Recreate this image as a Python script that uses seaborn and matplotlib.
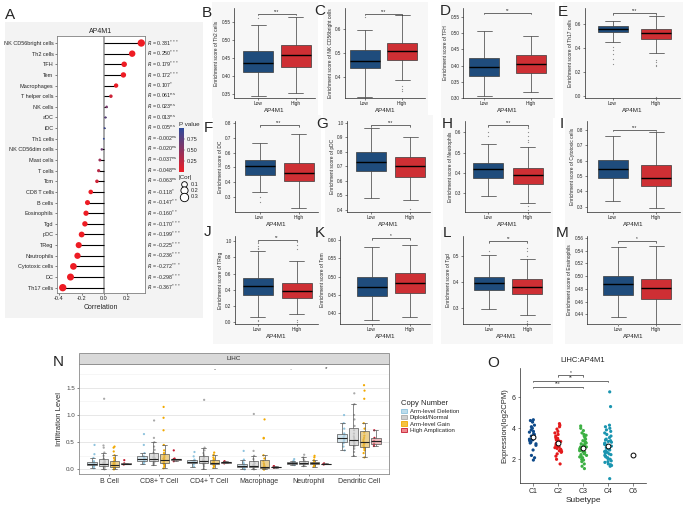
import numpy as np
import pandas as pd
import seaborn as sns
import matplotlib.pyplot as plt
from matplotlib.colors import LinearSegmentedColormap, Normalize
from matplotlib.cm import ScalarMappable
from matplotlib.lines import Line2D
from matplotlib.patches import Patch, Rectangle
from matplotlib.transforms import blended_transform_factory

# ---------------- data: panel A (lollipop) ----------------
cells_a = ["NK CD56bright cells", "Th2 cells", "TFH", "Tem", "Macrophages", "T helper cells",
           "NK cells", "aDC", "iDC", "Th1 cells", "NK CD56dim cells", "Mast cells", "T cells",
           "Tcm", "CD8 T cells", "B cells", "Eosinophils", "Tgd", "pDC", "TReg", "Neutrophils",
           "Cytotoxic cells", "DC", "Th17 cells"]
r_values = [0.331, 0.250, 0.179, 0.172, 0.107, 0.061, 0.023, 0.013, 0.005, -0.002, -0.020,
            -0.037, -0.048, -0.063, -0.118, -0.147, -0.160, -0.170, -0.199, -0.225, -0.236,
            -0.272, -0.298, -0.367]
r_stars = ["***", "***", "***", "***", "*", "ns", "ns", "ns", "ns", "ns", "ns", "ns", "ns", "ns",
           "*", "**", "**", "***", "***", "***", "***", "***", "***", "***"]
p_values = [0.0, 0.0, 0.0, 0.0, 0.02, 0.17, 0.60, 0.77, 0.91, 0.97, 0.66, 0.42, 0.29, 0.16,
            0.01, 0.002, 0.0, 0.0, 0.0, 0.0, 0.0, 0.0, 0.0, 0.0]

# ---------------- data: panels B-M (boxplots Low / High) ----------------
box_letters = list("BCDEFGHIJKLM")
box_cells = ["Th2 cells", "NK CD56bright cells", "TFH", "Th17 cells", "DC", "pDC", "Neutrophils",
             "Cytotoxic cells", "TReg", "Tem", "Tgd", "Eosinophils"]
box_sig = ["***", "***", "**", "***", "***", "***", "***", "***", "**", "*", "**", "*"]
# whisker low, q1, median, q3, whisker high
low_stats = [(0.345, 0.411, 0.436, 0.469, 0.542), (0.318, 0.437, 0.467, 0.512, 0.596),
             (0.306, 0.367, 0.396, 0.424, 0.507), (0.45, 0.536, 0.558, 0.583, 0.628),
             (0.337, 0.446, 0.511, 0.553, 0.667), (0.48, 0.667, 0.731, 0.797, 0.967),
             (0.287, 0.375, 0.418, 0.449, 0.543), (0.335, 0.485, 0.546, 0.605, 0.76),
             (0.06, 0.34, 0.45, 0.551, 0.88), (0.382, 0.447, 0.471, 0.50, 0.582),
             (0.294, 0.368, 0.394, 0.417, 0.503), (0.435, 0.471, 0.487, 0.501, 0.546)]
high_stats = [(0.354, 0.426, 0.458, 0.486, 0.564), (0.388, 0.471, 0.51, 0.543, 0.66),
              (0.318, 0.378, 0.406, 0.434, 0.49), (0.356, 0.472, 0.528, 0.556, 0.667),
              (0.23, 0.41, 0.464, 0.527, 0.727), (0.47, 0.627, 0.70, 0.764, 0.904),
              (0.253, 0.347, 0.388, 0.425, 0.53), (0.29, 0.435, 0.49, 0.575, 0.785),
              (0.10, 0.295, 0.385, 0.48, 0.75), (0.39, 0.455, 0.482, 0.511, 0.585),
              (0.27, 0.352, 0.381, 0.41, 0.49), (0.424, 0.464, 0.481, 0.496, 0.547)]
low_out = [[0.562], [0.652], [], [0.41, 0.38, 0.35, 0.31, 0.27], [0.30, 0.27], [], [0.60, 0.58],
           [0.25], [1.0, 0.97, 0.94, 0.92, 0.9, 0.03, 0.01], [], [0.52], [0.424]]
high_out = [[], [0.362, 0.35, 0.34], [], [0.30, 0.28, 0.26, 0.25, -0.01], [], [0.41],
            [0.62, 0.60, 0.58, 0.56, 0.55, 0.24, 0.22, 0.20], [], [0.9, 0.95, 1.0, 0.03, 0.0],
            [], [0.53, 0.52, 0.50, 0.25, 0.24], []]

# ---------------- data: panel N (TIMER copy number) ----------------
n_cells = ["B Cell", "CD8+ T Cell", "CD4+ T Cell", "Macrophage", "Neutrophil", "Dendritic Cell"]
cn_groups = ["Arm-level Deletion", "Diploid/Normal", "Arm-level Gain", "High Amplication"]
n_del = [[0.02, 0.05, 0.06, 0.07, 0.08, 0.09, 0.10, 0.10, 0.11, 0.12, 0.13, 0.15, 0.21, 0.28, 0.45],
         [0.10, 0.13, 0.15, 0.16, 0.17, 0.18, 0.19, 0.20, 0.22, 0.24, 0.30, 0.45, 0.65],
         [0.05, 0.09, 0.11, 0.12, 0.13, 0.13, 0.14, 0.15, 0.16, 0.18, 0.24, 0.32],
         [0.00, 0.02, 0.03, 0.04, 0.05, 0.05, 0.06, 0.08, 0.10, 0.13, 0.18, 0.34],
         [0.08, 0.09, 0.10, 0.11, 0.11, 0.12, 0.12, 0.13, 0.16, 0.19],
         [0.35, 0.42, 0.48, 0.51, 0.53, 0.55, 0.57, 0.60, 0.62, 0.66, 0.75, 0.85, 1.00]]
n_dip = [[0.00, 0.02, 0.03, 0.04, 0.05, 0.06, 0.07, 0.08, 0.08, 0.09, 0.09, 0.10, 0.11, 0.12,
          0.13, 0.15, 0.17, 0.20, 0.25, 0.31, 0.40, 0.44, 1.30],
         [0.08, 0.10, 0.12, 0.13, 0.14, 0.15, 0.16, 0.17, 0.17, 0.18, 0.19, 0.20, 0.21, 0.22,
          0.24, 0.27, 0.31, 0.36, 0.42, 0.50, 0.58, 0.90],
         [0.01, 0.05, 0.08, 0.10, 0.11, 0.12, 0.12, 0.13, 0.14, 0.15, 0.16, 0.17, 0.19, 0.22,
          0.26, 0.30, 0.35, 0.40, 1.28],
         [0.00, 0.01, 0.02, 0.03, 0.04, 0.05, 0.05, 0.06, 0.08, 0.09, 0.11, 0.14, 0.19, 0.25,
          0.34, 1.02],
         [0.06, 0.08, 0.09, 0.10, 0.10, 0.11, 0.11, 0.12, 0.13, 0.15, 0.18, 0.22, 0.27],
         [0.25, 0.32, 0.38, 0.42, 0.44, 0.47, 0.49, 0.50, 0.52, 0.55, 0.58, 0.61, 0.66, 0.72,
          0.80, 0.92, 1.00, 1.20, 1.40]]
n_gain = [[0.00, 0.01, 0.02, 0.03, 0.04, 0.05, 0.06, 0.07, 0.07, 0.08, 0.08, 0.09, 0.10, 0.11,
           0.12, 0.14, 0.17, 0.21, 0.26, 0.33, 0.40, 0.42],
          [0.02, 0.05, 0.08, 0.10, 0.11, 0.12, 0.14, 0.15, 0.16, 0.16, 0.17, 0.19, 0.20, 0.21,
           0.23, 0.26, 0.30, 0.35, 0.45, 0.72, 0.95, 1.15],
          [0.03, 0.06, 0.08, 0.10, 0.11, 0.11, 0.12, 0.12, 0.13, 0.14, 0.15, 0.17, 0.19, 0.22,
           0.27, 0.31],
          [0.00, 0.00, 0.01, 0.01, 0.02, 0.02, 0.03, 0.03, 0.04, 0.05, 0.06, 0.08, 0.11, 0.15,
           0.20, 0.26, 0.57, 0.58, 0.92],
          [0.05, 0.07, 0.08, 0.09, 0.10, 0.10, 0.11, 0.11, 0.12, 0.14, 0.17, 0.22, 0.25],
          [0.22, 0.30, 0.35, 0.38, 0.40, 0.42, 0.44, 0.46, 0.47, 0.49, 0.52, 0.55, 0.58, 0.62,
           0.68, 0.75, 0.85, 1.30, 1.45, 1.55]]
n_amp = [[0.09, 0.10, 0.10, 0.11, 0.17], [0.15, 0.18, 0.19, 0.20, 0.35],
         [0.11, 0.12, 0.13, 0.14, 0.15], [0.03, 0.04, 0.05, 0.05, 0.06],
         [0.09, 0.10, 0.10, 0.11], [0.43, 0.47, 0.52, 0.58, 0.72]]

# ---------------- data: panel O (subtypes) ----------------
subtypes = ["C1", "C2", "C3", "C4", "C6"]
expr_c1 = [1.95, 2.1, 2.25, 2.6, 2.9, 3.0, 3.05, 3.1, 3.2, 3.25, 3.3, 3.4, 3.45, 3.5, 3.6, 3.65,
           3.75, 3.8, 3.9, 4.0, 4.1, 4.2, 4.4, 4.5, 4.55]
expr_c2 = [1.7, 2.0, 2.2, 2.35, 2.45, 2.5, 2.55, 2.6, 2.65, 2.7, 2.75, 2.8, 2.85, 2.9, 2.9, 2.95,
           3.0, 3.0, 3.05, 3.1, 3.15, 3.2, 3.25, 3.3, 3.35, 3.4, 3.5, 3.6, 3.7, 3.8, 3.95, 4.1,
           4.2, 4.3]
expr_c3 = [1.4, 1.55, 1.7, 1.85, 1.95, 2.0, 2.1, 2.15, 2.2, 2.25, 2.3, 2.35, 2.4, 2.45, 2.5, 2.5,
           2.55, 2.6, 2.6, 2.65, 2.7, 2.7, 2.75, 2.8, 2.8, 2.85, 2.9, 2.95, 3.0, 3.05, 3.1, 3.15,
           3.2, 3.3, 3.4, 3.5, 3.55, 3.6, 3.7, 3.85, 4.0, 4.15]
expr_c4 = [0.75, 1.55, 1.6, 1.65, 1.7, 1.8, 1.85, 1.9, 2.0, 2.05, 2.1, 2.15, 2.2, 2.25, 2.3, 2.35,
           2.4, 2.45, 2.5, 2.55, 2.6, 2.65, 2.7, 2.75, 2.8, 2.85, 2.9, 2.95, 3.0, 3.05, 3.1, 3.15,
           3.2, 3.25, 3.3, 3.4, 3.5, 3.6, 3.7, 3.8, 3.9, 4.0, 4.1, 4.2, 5.4, 6.35]
expr_c6 = [2.3]
o_pairs = [("C2", "C3", "*"), ("C1", "C4", "**"), ("C1", "C3", "***")]

# ---------------- style ----------------
sns.set_theme(style="white")
plt.rcParams["font.family"] = ["Liberation Sans", "DejaVu Sans"]
plt.rcParams["axes.linewidth"] = 0.5

W, H = 685, 509
fig = plt.figure(figsize=(W / 100, H / 100), dpi=100)


def add_ax(x0, x1, y0, y1):
    return fig.add_axes([x0 / W, 1 - y1 / H, (x1 - x0) / W, (y1 - y0) / H])


def backdrop(x0, x1, y0, y1, color):
    fig.patches.append(Rectangle((x0 / W, 1 - y1 / H), (x1 - x0) / W, (y1 - y0) / H,
                                 transform=fig.transFigure, facecolor=color,
                                 edgecolor="none", zorder=-10))


def letter(txt, x, y):
    fig.text(x / W, 1 - y / H, txt, fontsize=11, ha="center", va="center")


# light grey panel backdrop for A
backdrop(5, 203, 22, 318, "#f3f3f3")

# ---------------- panel A ----------------
letter("A", 10, 15)
cmap = LinearSegmentedColormap.from_list("pv", ["#ee1c24", "#2c4a9c"])
axA = add_ax(57, 145, 36, 293)
axA.set_facecolor("white")
ypos = np.arange(len(cells_a))
axA.axvline(0, color="#a0a0a0", lw=1.3, zorder=0)
axA.hlines(ypos, 0, r_values, color="black", lw=0.8, zorder=1)
dfA = pd.DataFrame({"cell": cells_a, "r": r_values, "p": p_values, "absr": np.abs(r_values)})
sns.scatterplot(data=dfA, x="r", y=ypos, hue="p", hue_norm=(0, 1), palette=cmap, size="absr",
                sizes=(1.5, 28), size_norm=(0, 0.331), edgecolor="none", legend=False,
                ax=axA, zorder=2)
axA.set_xlim(-0.418, 0.364)
axA.set_ylim(23.5, -0.66)
axA.set_yticks(ypos)
axA.set_yticklabels(cells_a, fontsize=4)
axA.set_xticks([-0.4, -0.2, 0.0, 0.2])
axA.set_xticklabels(["-0.4", "-0.2", "0.0", "0.2"], fontsize=4)
axA.tick_params(length=1.5, width=0.4, pad=1, left=True, bottom=True)
for sp in axA.spines.values():
    sp.set_color("#808080")
    sp.set_linewidth(0.6)
axA.set_xlabel("Correlation", fontsize=5, labelpad=1.5)
axA.set_ylabel("")
axA.set_title("AP4M1", fontsize=5, pad=2)
tr = blended_transform_factory(axA.transAxes, axA.transData)
for i, (r, s) in enumerate(zip(r_values, r_stars)):
    sup = r"\mathrm{ns}" if s == "ns" else s
    axA.text(1.025, i, f"$R$ = {r:.3f}$^{{{sup}}}$", transform=tr, fontsize=3.8, va="center",
             clip_on=False)

cax = add_ax(179, 184, 128, 172)
cb = fig.colorbar(ScalarMappable(norm=Normalize(0, 1), cmap=cmap), cax=cax)
cb.set_ticks([0.25, 0.5, 0.75])
cb.ax.tick_params(labelsize=4, length=1, width=0.3, pad=1)
cb.outline.set_visible(False)
fig.text(179 / W, 1 - 124 / H, "P value", fontsize=4.5, va="center")
cor_handles = [Line2D([], [], marker="o", ls="", markersize=np.sqrt(1.5 + 80 * v) + 1,
                      markerfacecolor="white", markeredgecolor="black", markeredgewidth=0.6,
                      label=f"{v:.1f}") for v in (0.1, 0.2, 0.3)]
fig.legend(handles=cor_handles, title="|Cor|", loc="upper left",
           bbox_to_anchor=(175 / W, 1 - 172 / H), frameon=False, fontsize=4, title_fontsize=4.5,
           handletextpad=0.2, labelspacing=0.25, borderpad=0.1, alignment="left")

# ---------------- panels B-M ----------------
# x0, x1, low centre, high centre, ytop, ybottom, two tick anchors, ticks, decimals, bracket px, letter pos
layout = [
    (234, 315, 258, 295.5, 8, 98, (0.55, 22), (0.35, 94), np.arange(0.35, 0.56, 0.05), 2, 14, (207, 13)),
    (345, 425, 364.5, 402, 8, 98, (0.6, 29), (0.4, 77), [0.4, 0.5, 0.6], 1, 14, (320, 11)),
    (463, 552, 484, 530.5, 8, 98, (0.55, 17), (0.30, 99), np.arange(0.30, 0.56, 0.05), 2, 13, (445, 11)),
    (585, 680, 612.5, 656, 8, 98, (0.6, 24), (0.0, 96), [0.0, 0.2, 0.4, 0.6], 1, 13, (563, 12)),
    (235, 318, 259.5, 298.5, 121, 212, (0.8, 123), (0.4, 182.3), np.arange(0.3, 0.81, 0.1), 1, 125, (208, 128)),
    (347, 430, 371, 410, 121, 212, (1.0, 122.7), (0.4, 210), np.arange(0.4, 1.01, 0.1), 1, 125, (322, 124)),
    (465, 550, 488.5, 528, 121, 212, (0.6, 132.3), (0.3, 193.3), [0.3, 0.4, 0.5, 0.6], 1, 125, (447, 124)),
    (587, 680, 612.5, 656, 121, 212, (0.8, 130), (0.3, 206.7), np.arange(0.3, 0.81, 0.1), 1, 130, (562, 124)),
    (235, 318, 257.5, 296.5, 236, 324, (0.8, 257.3), (0.0, 322.3), np.arange(0.0, 1.01, 0.2), 1, 240, (208, 232)),
    (340, 430, 371.5, 409.5, 236, 324, (0.55, 258.3), (0.40, 313.3), np.arange(0.40, 0.61, 0.05), 2, 238, (320, 233)),
    (463, 550, 489, 527.5, 236, 324, (0.5, 256), (0.3, 307.7), [0.3, 0.4, 0.5], 1, 241, (447, 233)),
    (587, 680, 618, 656, 236, 324, (0.54, 250.7), (0.44, 314.3), np.arange(0.44, 0.57, 0.02), 2, 241, (562, 233)),
]
blue, red = "#0f4c8c", "#e8141c"
for k, lay in enumerate(layout):
    x0, x1, cL, cH, yt, yb, (v1, p1), (v2, p2), ticks, dec, brk, lpos = lay
    letter(box_letters[k], *lpos)
    backdrop(x0 - 22, x1 + 3, yt - 6, yb + 20, "#f7f7f7")
    ax = add_ax(x0, x1, yt, yb)
    ax.set_facecolor("none")
    ppu = (p2 - p1) / (v1 - v2)
    sp = cH - cL
    dfb = pd.DataFrame({"grp": ["Low"] * 5 + ["High"] * 5,
                        "val": list(low_stats[k]) + list(high_stats[k])})
    sns.boxplot(data=dfb, x="grp", y="val", hue="grp", order=["Low", "High"],
                palette={"Low": blue, "High": red}, whis=(0, 100), width=30 / sp,
                linecolor="#3a3a3a", linewidth=0.5, showfliers=False, legend=False,
                medianprops=dict(color="black", linewidth=1.0), ax=ax)
    dfo = pd.DataFrame({"grp": ["Low"] * len(low_out[k]) + ["High"] * len(high_out[k]),
                        "val": low_out[k] + high_out[k]})
    if len(dfo):
        sns.stripplot(data=dfo, x="grp", y="val", order=["Low", "High"], jitter=False,
                      color="#8c8c8c", size=0.9, ax=ax)
    ax.set_xlim((x0 - cL) / sp, (x1 - cL) / sp)
    ax.set_ylim(v1 - (yb - p1) / ppu, v1 + (p1 - yt) / ppu)
    ax.set_yticks(ticks)
    ax.set_yticklabels([f"{t:.{dec}f}" for t in ticks], fontsize=3.3)
    ax.set_xticks([0, 1])
    ax.set_xticklabels(["Low", "High"], fontsize=3.5)
    ax.tick_params(length=1.5, width=0.4, pad=1, left=True, bottom=True)
    sns.despine(ax=ax)
    ax.set_ylabel(f"Enrichment score of {box_cells[k]}", fontsize=3.5, labelpad=1.5)
    ax.set_xlabel("AP4M1", fontsize=4.5, labelpad=1)
    by = v1 + (p1 - brk) / ppu
    d = 1.5 / ppu
    ax.plot([0, 0, 1, 1], [by - d, by, by, by - d], color="black", lw=0.4, clip_on=False)
    ax.text(0.5, by + 0.3 / ppu, box_sig[k], ha="center", va="bottom", fontsize=3.3)

# ---------------- panel N ----------------
letter("N", 58, 362)
rows = []
for ci, cell in enumerate(n_cells):
    for g, vals in zip(cn_groups, (n_del[ci], n_dip[ci], n_gain[ci], n_amp[ci])):
        rows += [(cell, g, v) for v in vals]
dfN = pd.DataFrame(rows, columns=["cell", "cn", "level"])
pt_cols = ["#8ec3de", "#a9a9a9", "#f2a900", "#c41a30"]
box_cols = ["#bcdcec", "#cfcfcf", "#f5c242", "#f08a8f"]
axN = add_ax(79, 389, 364, 474)
axN.set_axisbelow(True)
axN.set_yticks([0.25, 0.75, 1.25, 1.75], minor=True)
axN.grid(True, which="major", color="#e3e3e3", lw=0.6)
axN.grid(True, which="minor", axis="y", color="#f0f0f0", lw=0.4)
sns.stripplot(data=dfN, x="cell", y="level", hue="cn", order=n_cells, hue_order=cn_groups,
              palette=pt_cols, dodge=True, jitter=0.05, size=1.6, legend=False, ax=axN,
              zorder=2)
sns.boxplot(data=dfN, x="cell", y="level", hue="cn", order=n_cells, hue_order=cn_groups,
            palette=box_cols, width=0.9, gap=0.15, showfliers=False, linecolor="#555555",
            linewidth=0.5, legend=False, medianprops=dict(color="#222222", linewidth=0.8),
            ax=axN)
for p in axN.patches:
    fc = p.get_facecolor()
    p.set_facecolor((fc[0], fc[1], fc[2], 0.65))
    p.set_zorder(3)
for ln in axN.lines:
    ln.set_zorder(3.5)
axN.set_xlim(-0.6, 5.6)
axN.set_ylim(-0.085, 1.94)
axN.set_yticks([0.0, 0.5, 1.0, 1.5])
axN.set_yticklabels(["0.0", "0.5", "1.0", "1.5"], fontsize=4.5, color="#444444")
axN.set_xticks(range(len(n_cells)))
axN.set_xticklabels(n_cells, fontsize=5, color="#333333")
axN.tick_params(length=1.5, width=0.4, pad=1.5, left=True, bottom=True, which="major")
axN.tick_params(which="minor", length=0)
for sp_ in axN.spines.values():
    sp_.set_color("#8a8a8a")
    sp_.set_linewidth(0.6)
axN.set_xlabel("")
axN.set_ylabel("Infiltration Level", fontsize=5.5, labelpad=2)
for xm, ym, s in [(2.12, 1.84, "-"), (3.62, 1.84, "·"), (4.34, 1.86, "*")]:
    axN.text(xm, ym, s, ha="center", va="center", fontsize=4.5)
fig.patches.append(Rectangle((79 / W, 1 - 364 / H), 310 / W, 11 / H, transform=fig.transFigure,
                             facecolor="#d9d9d9", edgecolor="#8a8a8a", lw=0.6))
fig.text(234 / W, 1 - 358.5 / H, "LIHC", fontsize=4.5, ha="center", va="center")
cn_handles = [Patch(facecolor=bc, edgecolor=pc, lw=0.6, label=g)
              for bc, pc, g in zip(box_cols, pt_cols, cn_groups)]
fig.legend(handles=cn_handles, title="Copy Number", loc="upper left",
           bbox_to_anchor=(396 / W, 1 - 395 / H), frameon=False, fontsize=4.3,
           title_fontsize=5.5, handlelength=0.9, handleheight=0.7, handletextpad=0.5,
           labelspacing=0.2, alignment="left")

# ---------------- panel O ----------------
letter("O", 493, 363)
rowsO = [(s, v) for s, vals in zip(subtypes, (expr_c1, expr_c2, expr_c3, expr_c4, expr_c6))
         for v in vals]
dfO = pd.DataFrame(rowsO, columns=["sub", "expr"])
sub_cols = ["#0e4a8a", "#e41a1c", "#3cb043", "#1a95b0", "#8a6fb0"]
axO = add_ax(520, 646, 368, 483)
np.random.seed(3)
sns.stripplot(data=dfO, x="sub", y="expr", hue="sub", order=subtypes, palette=sub_cols,
              jitter=0.15, size=2.3, legend=False, ax=axO)
sns.pointplot(data=dfO, x="sub", y="expr", order=subtypes, estimator="mean", errorbar=None,
              linestyle="none", marker="o", color="white", markeredgecolor="black",
              markeredgewidth=0.7, markersize=3.5, ax=axO, zorder=5)
axO.set_xlim(-0.52, 4.52)
axO.set_ylim(0.47, 7.89)
axO.set_yticks([2, 4, 6])
axO.tick_params(labelsize=5, length=1.8, width=0.4, pad=1.5, left=True, bottom=True)
sns.despine(ax=axO)
axO.set_xlabel("Subetype", fontsize=6, labelpad=1.5)
axO.set_ylabel("Expression(log2CPM)", fontsize=5.5, labelpad=2)
axO.set_title("LIHC:AP4M1", fontsize=5.5, pad=4)
for (a, b, s), by in zip(o_pairs, [7.44, 7.07, 6.68]):
    xa, xb = subtypes.index(a), subtypes.index(b)
    axO.plot([xa, xa, xb, xb], [by - 0.1, by, by, by - 0.1], color="black", lw=0.4,
             clip_on=False)
    axO.text((xa + xb) / 2, by + 0.02, s, ha="center", va="bottom", fontsize=3.5)

fig.savefig("out.png", dpi=100)
